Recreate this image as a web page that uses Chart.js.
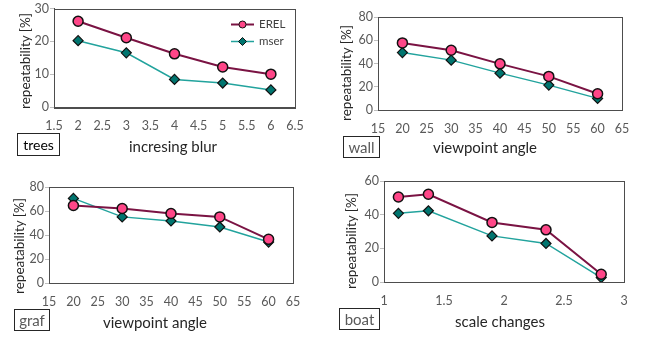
<!DOCTYPE html>
<html>
<head>
<meta charset="utf-8">
<script src="https://cdn.jsdelivr.net/npm/chart.js@4/dist/chart.umd.min.js"></script>
<style>
  html, body { margin: 0; padding: 0; background: #fff; }
  #page { position: relative; width: 647px; height: 339px; overflow: hidden; font-family: Lato, "Open Sans", sans-serif; }
  canvas { position: absolute; }
  .xt { position: absolute; transform: translate(-50%, -50%); white-space: nowrap; font-size: 15px; color: #262626; }
  .yt { position: absolute; transform: translate(-50%, -50%) rotate(-90deg); white-space: nowrap; font-size: 13.5px; color: #262626; }
  .tag { position: absolute; box-sizing: border-box; border: 1px solid #262626; font-size: 15px; color: #595959;
         display: flex; align-items: center; justify-content: center; }
</style>
</head>
<body>
<div id="page">
  <canvas id="c1" width="320" height="165" style="left:0;top:0"></canvas>
  <canvas id="c2" width="327" height="165" style="left:320px;top:0"></canvas>
  <canvas id="c3" width="320" height="174" style="left:0;top:165px"></canvas>
  <canvas id="c4" width="327" height="174" style="left:320px;top:165px"></canvas>

  <div class="yt" style="left:25px;top:61px">repeatability [%]</div>
  <div class="yt" style="left:346px;top:73px">repeatability [%]</div>
  <div class="yt" style="left:19px;top:246px">repeatability [%]</div>
  <div class="yt" style="left:351px;top:241px">repeatability [%]</div>

  <div class="xt" style="left:173px;top:146px">incresing blur</div>
  <div class="xt" style="left:485px;top:147px">viewpoint angle</div>
  <div class="xt" style="left:155px;top:322px">viewpoint angle</div>
  <div class="xt" style="left:500px;top:321px">scale changes</div>

  <div class="tag" style="left:17px;top:133px;width:43px;height:23px;color:#000;font-size:14px">trees</div>
  <div class="tag" style="left:343px;top:136px;width:37px;height:22px">wall</div>
  <div class="tag" style="left:14px;top:309px;width:36px;height:22px">graf</div>
  <div class="tag" style="left:339px;top:308px;width:41px;height:22px">boat</div>
</div>
<script>
// data
const treesX = [2, 3, 4, 5, 6];
const treesErel = [26.1, 21.1, 16.2, 12.2, 10.0];
const treesMser = [20.2, 16.5, 8.4, 7.3, 5.2];

const wallX = [20, 30, 40, 50, 60];
const wallErel = [57.7, 51.4, 39.7, 28.9, 14.0];
const wallMser = [49.4, 42.9, 31.7, 21.4, 10.0];

const grafX = [20, 30, 40, 50, 60];
const grafErel = [64.6, 62.1, 57.9, 55.1, 36.4];
const grafMser = [70.5, 55.1, 51.7, 46.7, 34.1];

const boatX = [1.12, 1.37, 1.9, 2.35, 2.81];
const boatErel = [50.5, 52.1, 35.4, 31.0, 4.6];
const boatMser = [40.8, 42.3, 27.4, 22.9, 2.6];

const seriesNames = ['EREL', 'mser'];

const tickColor = '#595959';
const frameColor = '#4d4d4d';
const tickFont = {family: 'Lato', size: 12.5};

// frame round the plot area + optional line/marker legend
const plotFrame = {
  id: 'plotFrame',
  afterDatasetsDraw: function(chart, args, opts) {
    const ctx = chart.ctx;
    const a = chart.chartArea;
    ctx.save();
    ctx.strokeStyle = frameColor;
    ctx.lineWidth = 1;
    ctx.strokeRect(Math.round(a.left) + 0.5, Math.round(a.top) + 0.5,
                   Math.round(a.right - a.left), Math.round(a.bottom - a.top));
    ctx.restore();

    if (!opts.legend) return;
    chart.data.datasets.forEach(function(ds, i) {
      const x0 = a.right + opts.dx;
      const y = a.top + opts.dy + i * opts.gap;
      ctx.save();
      ctx.strokeStyle = ds.borderColor;
      ctx.lineWidth = ds.borderWidth;
      ctx.beginPath();
      ctx.moveTo(x0, y);
      ctx.lineTo(x0 + 23, y);
      ctx.stroke();
      ctx.fillStyle = ds.pointBackgroundColor;
      ctx.strokeStyle = ds.pointBorderColor;
      ctx.lineWidth = 1;
      Chart.helpers.drawPoint(ctx, {pointStyle: ds.pointStyle, radius: ds.pointStyle === 'circle' ? 3.5 : 4, borderWidth: 1, rotation: 0}, x0 + 11.5, y);
      ctx.fillStyle = '#404040';
      ctx.font = '11.5px Lato';
      ctx.textBaseline = 'middle';
      ctx.fillText(ds.label, x0 + 28, y);
      ctx.restore();
    });
  }
};

function makePanel(id, xs, erel, mser, xr, yr, area, legend) {
  const pts = function(ys) { return xs.map(function(x, i) { return {x: x, y: ys[i]}; }); };
  return new Chart(document.getElementById(id), {
    type: 'scatter',
    data: {
      datasets: [
        {
          label: seriesNames[0], data: pts(erel), showLine: true,
          borderColor: '#7a1343', borderWidth: 2,
          pointStyle: 'circle', pointRadius: 5, pointBorderWidth: 1.5,
          pointBackgroundColor: '#ff4688', pointBorderColor: '#111'
        },
        {
          label: seriesNames[1], data: pts(mser), showLine: true,
          borderColor: '#22a39d', borderWidth: 1.5,
          pointStyle: 'rectRot', pointRadius: 5, pointBorderWidth: 1.2,
          pointBackgroundColor: '#00756f', pointBorderColor: '#111'
        }
      ]
    },
    options: {
      responsive: false,
      animation: false,
      devicePixelRatio: 1,
      layout: {padding: {left: 0, top: area.top, right: area.right, bottom: 0}},
      plugins: {
        legend: {display: false},
        tooltip: {enabled: false},
        plotFrame: legend ? {legend: true, dx: -64, dy: 16, gap: 17} : {legend: false}
      },
      scales: {
        x: {
          type: 'linear', min: xr[0], max: xr[1],
          ticks: {stepSize: xr[2], padding: 11, color: tickColor, font: tickFont, maxRotation: 0, autoSkip: false,
                  callback: function(v) { return String(Math.round(v * 100) / 100); }},
          grid: {display: false, drawTicks: false},
          border: {color: frameColor},
          afterFit: function(ax) { ax.height = area.xh; }
        },
        y: {
          type: 'linear', min: yr[0], max: yr[1],
          ticks: {stepSize: yr[2], padding: 1, color: tickColor, font: tickFont},
          grid: {drawOnChartArea: false, tickLength: 4, color: '#bfbfbf'},
          border: {color: frameColor},
          afterFit: function(ax) { ax.width = area.left; }
        }
      }
    },
    plugins: [plotFrame]
  });
}

makePanel('c1', treesX, treesErel, treesMser, [1.5, 6.5, 0.5], [0, 30, 10], {left: 54, top: 6, right: 25, xh: 58}, true);
makePanel('c2', wallX, wallErel, wallMser, [15, 65, 5], [0, 80, 20], {left: 58, top: 17, right: 25, xh: 55}, false);
makePanel('c3', grafX, grafErel, grafMser, [15, 65, 5], [0, 80, 20], {left: 49, top: 22, right: 27, xh: 56}, false);
makePanel('c4', boatX, boatErel, boatMser, [1, 3, 0.5], [0, 60, 20], {left: 64, top: 16, right: 23, xh: 57}, false);
</script>
</body>
</html>
